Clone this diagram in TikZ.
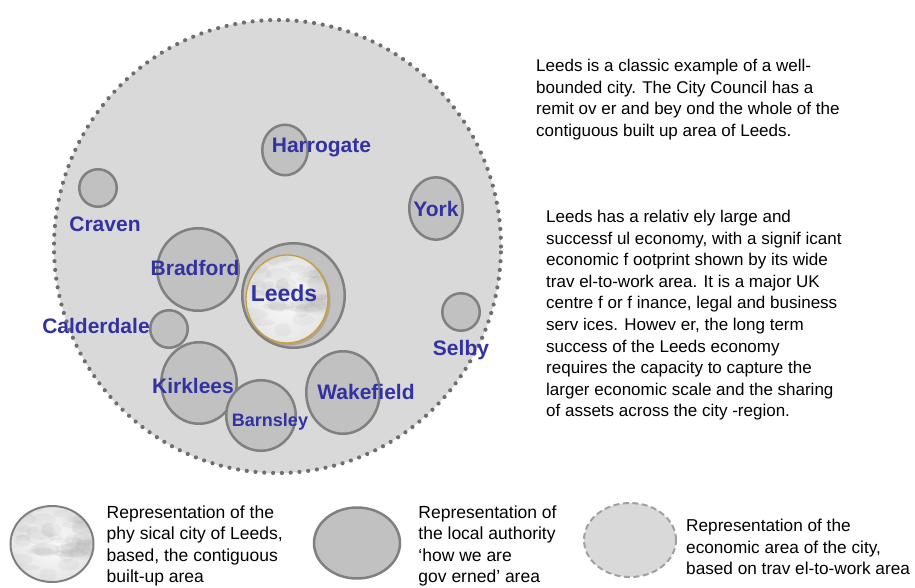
\documentclass[tikz,border=0pt]{standalone}
\usepackage{fontspec}
\setmainfont{Liberation Sans}
\usetikzlibrary{positioning,calc,shapes.geometric}

\definecolor{namecol}{RGB}{50,50,160}
\definecolor{areafill}{RGB}{217,217,217}
\definecolor{lafill}{RGB}{193,193,193}
\definecolor{ladraw}{RGB}{128,128,128}
\definecolor{dotcol}{RGB}{110,110,110}
\definecolor{dashcol}{RGB}{160,160,160}
\definecolor{rimcol}{RGB}{196,160,60}

\begin{document}
\begin{tikzpicture}[x=1pt,y=-1pt,
        areasty/.style={
            ellipse, fill=areafill, draw=dotcol, line width=4.2pt,
            line cap=round, dash pattern=on 0pt off 8.8pt, inner sep=0pt,
        },
        lasty/.style={
            ellipse, fill=lafill, draw=ladraw, line width=2.5pt, inner sep=0pt,
        },
        marblesty/.style={
            ellipse, inner sep=0pt, inner color=gray!3, outer color=gray!20,
            path picture={
                \pgfmathsetseed{17}
                \foreach \k in {1,...,55}{
                    \pgfmathsetmacro\mx{rand*42}
                    \pgfmathsetmacro\my{rand*42}
                    \pgfmathsetmacro\ma{6+12*rnd}
                    \pgfmathsetmacro\mb{2.5+5*rnd}
                    \fill[gray, opacity=.07, rotate around={-35:(path picture bounding box.center)}]
                        ([shift={(\mx,\my)}]path picture bounding box.center) ellipse ({\ma} and {\mb});
                }
            },
        },
        namesty/.style={
            text=namecol, font=\fontsize{21}{21}\selectfont\bfseries,
            inner sep=0pt, anchor=base,
        },
        txtsty/.style={
            align=left, inner sep=0pt, anchor=north west,
            font=\fontsize{17}{21.6}\selectfont,
        }
    ]
    \useasboundingbox (0,0) rectangle (915,588);

    % economic area
    \node[areasty, minimum width=447pt, minimum height=453pt] (region) at (277.5,246.5) {};

    % local authorities
    \node[lasty, minimum width=45.5pt, minimum height=50.5pt] (harrogate) at (285,150) {};
    \node[lasty, minimum width=37.5pt, minimum height=37.5pt] (craven) at (98,188) {};
    \node[lasty, minimum width=53.5pt, minimum height=62.5pt] (york) at (436,208.5) {};
    \node[lasty, minimum width=81.5pt, minimum height=82.5pt] (bradford) at (198,269.5) {};
    \node[lasty, minimum width=102.5pt, minimum height=104.5pt] (leedsla) at (293.5,295.5) {};
    \node[lasty, minimum width=37.5pt, minimum height=37.5pt] (calderdale) at (169,329) {};
    \node[lasty, minimum width=37.5pt, minimum height=37.5pt] (selby) at (461,312) {};
    \node[lasty, minimum width=75.5pt, minimum height=81.5pt] (kirklees) at (199,383) {};
    \node[lasty, minimum width=73.5pt, minimum height=82.5pt] (wakefield) at (343,392.5) {};
    \node[lasty, minimum width=69.5pt, minimum height=70.5pt] (barnsley) at (261,415.5) {};

    % physical city
    \fill[brown!60!gray, opacity=.45] (288.5,300.5) ellipse (42 and 45);
    \node[marblesty, draw=rimcol, line width=1.3pt, minimum width=82pt, minimum height=88pt] (leedscity) at (287,299) {};

    \node[namesty] (harrogatetxt) at (321.5,153) {Harrogate};
    \node[namesty] (craventxt) at (105,231.5) {Craven};
    \node[namesty] (yorktxt) at (436,216) {York};
    \node[namesty] (bradfordtxt) at (195,275.5) {Bradford};
    \node[namesty, font=\fontsize{23}{23}\selectfont\bfseries] (leedstxt) at (284,301.2) {Leeds};
    \node[namesty] (calderdaletxt) at (96,333.5) {Calderdale};
    \node[namesty] (selbytxt) at (461,355.5) {Selby};
    \node[namesty] (kirkleestxt) at (193,393.5) {Kirklees};
    \node[namesty, font=\fontsize{18}{18}\selectfont\bfseries] (barnsleytxt) at (270,426.4) {Barnsley};
    \node[namesty] (wakefieldtxt) at (366,399.5) {Wakefield};

    % commentary
    \node[txtsty] (bounded) at (536,59) {Leeds is a classic example of a well-\\
        bounded city. The City Council has a\\
        remit ov er and bey ond the whole of the\\
        contiguous built up area of Leeds.};
    \node[txtsty] (economy) at (546,210) {Leeds has a relativ ely large and\\
        successf ul economy, with a signif icant\\
        economic f ootprint shown by its wide\\
        trav el-to-work area. It is a major UK\\
        centre f or f inance, legal and business\\
        serv ices. Howev er, the long term\\
        success of the Leeds economy\\
        requires the capacity to capture the\\
        larger economic scale and the sharing\\
        of assets across the city -region.};

    % key
    \node[marblesty, draw=ladraw, line width=2pt, minimum width=83pt, minimum height=76pt] (keycity) at (52,544) {};
    \node[lasty, minimum width=86pt, minimum height=71pt] (keyla) at (357,543) {};
    \node[areasty, draw=dashcol, line width=2pt, line cap=butt, dash pattern=on 6pt off 3.5pt,
        minimum width=92pt, minimum height=74pt] (keyarea) at (630,540) {};

    \node[txtsty, font=\fontsize{17.5}{21.2}\selectfont, anchor=west, right=12pt of keycity, yshift=-2pt] (keycitytxt) {Representation of the\\
        phy sical city of Leeds,\\
        based, the contiguous\\
        built-up area};
    \node[txtsty, font=\fontsize{17.5}{21.2}\selectfont, anchor=west, right=17pt of keyla, yshift=-3pt] (keylatxt) {Representation of\\
        the local authority\\
        `how we are\\
        gov erned' area};
    \node[txtsty, font=\fontsize{17.2}{21.2}\selectfont, anchor=west, right=9pt of keyarea, yshift=-7pt] (keyareatxt) {Representation of the\\
        economic area of the city,\\
        based on trav el-to-work area};
\end{tikzpicture}
\end{document}
